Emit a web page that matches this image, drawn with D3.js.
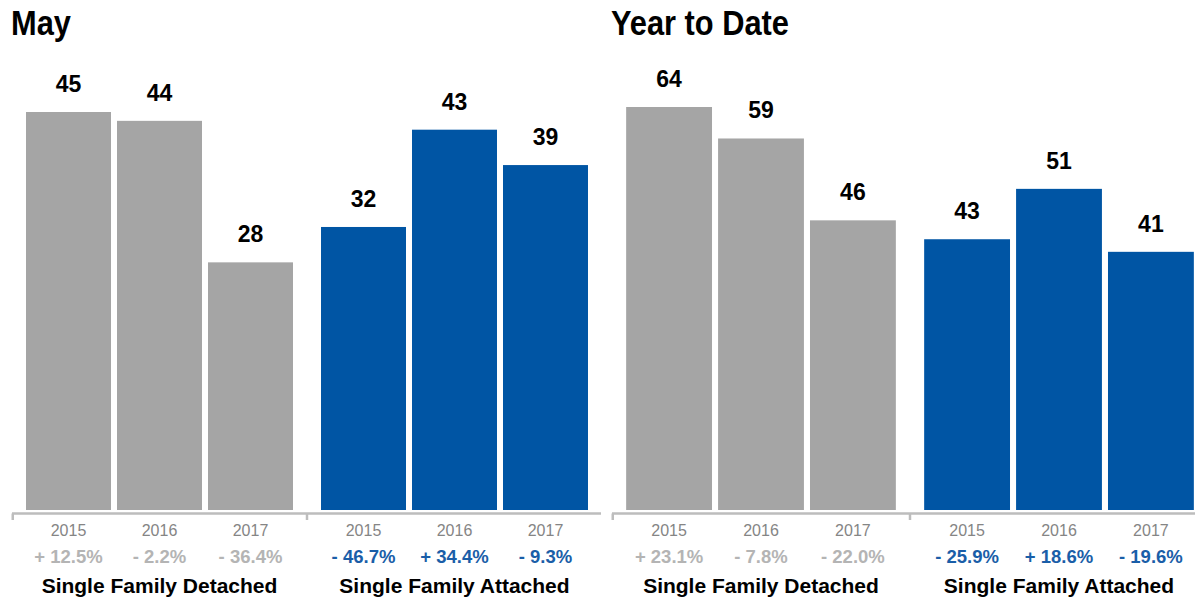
<!DOCTYPE html>
<html>
<head>
<meta charset="utf-8">
<script src="https://cdn.jsdelivr.net/npm/d3@7"></script>
<style>
  html, body { margin: 0; padding: 0; background: #fff; }
  svg { display: block; font-family: "Liberation Sans", Arial, Helvetica, sans-serif; }
</style>
</head>
<body>
<svg id="chart" width="1195" height="600"></svg>
<script>
// Categories
const panelTitles = ["May", "Year to Date"];
const groups = ["Single Family Detached", "Single Family Attached"];
const years = ["2015", "2016", "2017"];

// Values per panel and group
const mayDetached = [45, 44, 28];
const mayAttached = [32, 43, 39];
const ytdDetached = [64, 59, 46];
const ytdAttached = [43, 51, 41];

// Year-over-year change labels
const mayDetachedChange = ["+ 12.5%", "- 2.2%", "- 36.4%"];
const mayAttachedChange = ["- 46.7%", "+ 34.4%", "- 9.3%"];
const ytdDetachedChange = ["+ 23.1%", "- 7.8%", "- 22.0%"];
const ytdAttachedChange = ["- 25.9%", "+ 18.6%", "- 19.6%"];

const barColors = ["#a5a5a5", "#0055a4"];
const changeColors = ["#b4b4b4", "#1a5ea8"];

const panels = [
  { title: panelTitles[0], values: [mayDetached, mayAttached], changes: [mayDetachedChange, mayAttachedChange],
    x0: 12, x1: 602, top: 112 },
  { title: panelTitles[1], values: [ytdDetached, ytdAttached], changes: [ytdDetachedChange, ytdAttachedChange],
    x0: 612, x1: 1208, top: 107 }
];

const svg = d3.select("#chart");
const baseY = 510;
const axisY = 513.5;

panels.forEach(p => {
  const g = svg.append("g");

  const outer = d3.scaleBand().domain(groups).range([p.x0, p.x1])
    .paddingInner(0.095).paddingOuter(0.0475);
  const inner = d3.scaleBand().domain(years).range([0, outer.bandwidth()])
    .paddingInner(0.066).paddingOuter(0);
  const maxV = d3.max(p.values.flat());
  const y = d3.scaleLinear().domain([0, maxV]).range([baseY, p.top]);

  // panel title (condensed look)
  g.append("text")
    .attr("transform", `translate(${p.x0 - 1},35) scale(0.88,1)`)
    .attr("font-size", 35).attr("font-weight", "bold").attr("fill", "#000")
    .text(p.title);

  // axis line and group separators
  g.append("line")
    .attr("x1", p.x0).attr("x2", p.x1 - 1)
    .attr("y1", axisY).attr("y2", axisY)
    .attr("stroke", "#bdbdbd").attr("stroke-width", 2.5);
  const gap = outer.step() - outer.bandwidth();
  const tickXs = [p.x0 + 0.75, outer(groups[1]) - gap / 2];
  g.selectAll(".tick").data(tickXs).join("line")
    .attr("x1", d => d).attr("x2", d => d)
    .attr("y1", axisY).attr("y2", 520)
    .attr("stroke", "#bdbdbd").attr("stroke-width", 2.5);

  groups.forEach((grp, gi) => {
    const gx = outer(grp);
    const data = years.map((yr, i) => ({ yr, v: p.values[gi][i], c: p.changes[gi][i] }));

    g.selectAll(null).data(data).join("rect")
      .attr("x", d => gx + inner(d.yr))
      .attr("width", inner.bandwidth())
      .attr("y", d => y(d.v))
      .attr("height", d => baseY - y(d.v))
      .attr("fill", barColors[gi]);

    g.selectAll(null).data(data).join("text")
      .attr("x", d => gx + inner(d.yr) + inner.bandwidth() / 2)
      .attr("y", d => y(d.v) - 20)
      .attr("text-anchor", "middle")
      .attr("font-size", 23).attr("font-weight", "bold").attr("fill", "#000")
      .text(d => d.v);

    g.selectAll(null).data(data).join("text")
      .attr("x", d => gx + inner(d.yr) + inner.bandwidth() / 2)
      .attr("y", 535.5)
      .attr("text-anchor", "middle")
      .attr("font-size", 16).attr("fill", "#858585")
      .text(d => d.yr);

    g.selectAll(null).data(data).join("text")
      .attr("x", d => gx + inner(d.yr) + inner.bandwidth() / 2)
      .attr("y", 562.5)
      .attr("text-anchor", "middle")
      .attr("font-size", 18.5).attr("font-weight", "bold").attr("fill", changeColors[gi])
      .attr("xml:space", "preserve")
      .text(d => d.c);

    g.append("text")
      .attr("x", gx + outer.bandwidth() / 2)
      .attr("y", 593)
      .attr("text-anchor", "middle")
      .attr("font-size", 21).attr("font-weight", "bold").attr("fill", "#000")
      .text(grp);
  });
});
</script>
</body>
</html>
